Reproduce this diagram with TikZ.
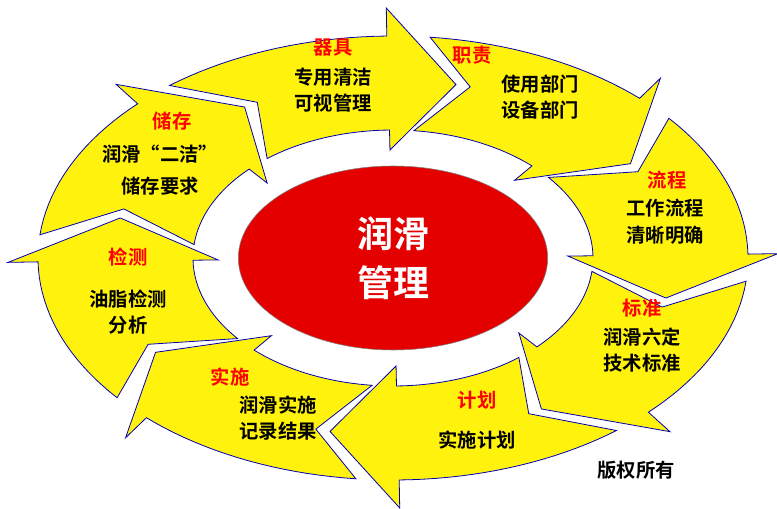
\documentclass[tikz,border=0pt]{standalone}
\usepackage{fontspec}
\usetikzlibrary{shapes.geometric}
\newfontfamily\cjk{Noto Sans CJK SC}[BoldFont=* Bold]
\begin{document}
\begin{tikzpicture}[x=0.75pt,y=-0.75pt,
  seg/.style={fill=yellow!95!white,draw=blue!70!black,line width=0.6pt},
  ttl/.style={font=\cjk\bfseries\fontsize{14.5}{17}\selectfont,text=red},
  txt/.style={font=\cjk\bfseries\fontsize{14.5}{20}\selectfont,align=center}]
\useasboundingbox (0,0) rectangle (777,509);
\fill[white] (0,0) rectangle (777,509);
\foreach \c in {210,165,120,75,30,-15,-60,-105}{
  \pgfmathsetmacro\s{\c-24}\pgfmathsetmacro\e{\c+14}\pgfmathsetmacro\t{\c+28}\pgfmathsetmacro\n{\c-14}
  \filldraw[seg] plot[domain=\s:\e,samples=20] ({393+355*cos(\x)},{258+222*sin(\x)})
    -- ({393+385*cos(\e)},{258+250*sin(\e)})
    -- ({393+280*cos(\t)},{258+178*sin(\t)})
    -- ({393+175*cos(\e)},{258+108*sin(\e)})
    -- plot[domain=\e:\s,samples=20] ({393+200*cos(\x)},{258+128*sin(\x)})
    -- ({393+280*cos(\n)},{258+178*sin(\n)}) -- cycle;
}
\node[ellipse,fill=red!90!black,draw=gray,minimum width=232pt,minimum height=138pt,inner sep=0] (core) at (393,258) {};
\node[font=\cjk\bfseries\fontsize{27}{37}\selectfont,text=white,align=center] (coret) at (393,258) {润滑\\管理};
\node[ttl] (t1) at (333,48) {器具};
\node[txt] (b1) at (333,90) {专用清洁\\可视管理};
\node[ttl] (t2) at (472,55) {职责};
\node[txt] (b2) at (540,97) {使用部门\\设备部门};
\node[ttl] (t3) at (667,180) {流程};
\node[txt] (b3) at (665,222) {工作流程\\清晰明确};
\node[ttl] (t4) at (642,308) {标准};
\node[txt] (b4) at (642,350) {润滑六定\\技术标准};
\node[ttl] (t5) at (477,400) {计划};
\node[txt] (b5) at (477,440) {实施计划};
\node[ttl] (t6) at (230,377) {实施};
\node[txt] (b6) at (278,418) {润滑实施\\记录结果};
\node[ttl] (t7) at (128,257) {检测};
\node[txt] (b7) at (128,312) {油脂检测\\分析};
\node[ttl] (t8) at (172,121) {储存};
\node[txt] (b8) at (160,170) {润滑“二洁”\\[4pt]储存要求};
\node[font=\cjk\bfseries\fontsize{14.5}{17}\selectfont] (cr) at (636,470) {版权所有};
\end{tikzpicture}
\end{document}
